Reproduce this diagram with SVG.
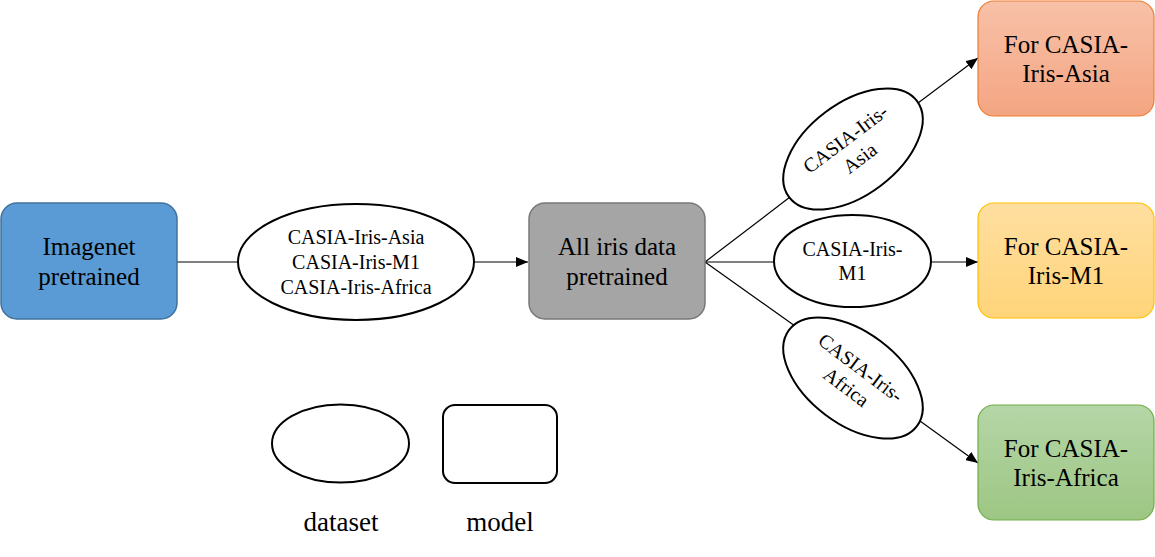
<svg xmlns="http://www.w3.org/2000/svg" width="1155" height="557" viewBox="0 0 1155 557">
<style>
  .t { fill: #000; text-anchor: middle; font-family: "Liberation Serif", "Times New Roman", serif; }
  .box { font-size: 25px; }
  .ds { font-size: 20px; }
  .lg { font-size: 27px; }
  .ell { fill: #fff; stroke: #000; stroke-width: 2; }
  .conn { stroke: #000; stroke-width: 1.2; fill: none; }
</style>
<defs>
  <marker id="arr" viewBox="0 0 12 10" refX="12" refY="5" markerWidth="12" markerHeight="10" markerUnits="userSpaceOnUse" orient="auto">
    <path d="M0,0 L12,5 L0,10 Z" fill="#000"/>
  </marker>
  <linearGradient id="gAsia" x1="0" y1="0" x2="0" y2="1">
    <stop offset="0" stop-color="#F8C1A8"/><stop offset="1" stop-color="#F4A582"/>
  </linearGradient>
  <linearGradient id="gM1" x1="0" y1="0" x2="0" y2="1">
    <stop offset="0" stop-color="#FFDFA0"/><stop offset="1" stop-color="#FFD47A"/>
  </linearGradient>
  <linearGradient id="gAfr" x1="0" y1="0" x2="0" y2="1">
    <stop offset="0" stop-color="#B5D6A7"/><stop offset="1" stop-color="#9DC683"/>
  </linearGradient>
</defs>

<g id="connectors">
  <line class="conn" x1="177" y1="262" x2="238" y2="262"/>
  <line class="conn" x1="474" y1="262" x2="528" y2="262" marker-end="url(#arr)"/>
  <line class="conn" x1="705" y1="262" x2="790" y2="197"/>
  <line class="conn" x1="918" y1="103" x2="978" y2="58" marker-end="url(#arr)"/>
  <line class="conn" x1="705" y1="262" x2="774" y2="262"/>
  <line class="conn" x1="931" y1="262" x2="978" y2="262" marker-end="url(#arr)"/>
  <line class="conn" x1="705" y1="262" x2="795" y2="326"/>
  <line class="conn" x1="920" y1="421" x2="978" y2="463" marker-end="url(#arr)"/>
</g>

<g id="imagenet">
  <rect x="1" y="203" width="176" height="116" rx="16" fill="#5B9BD5" stroke="#41719C" stroke-width="1.5"/>
  <text class="t box" x="89" y="255">Imagenet</text>
  <text class="t box" x="89" y="284.5">pretrained</text>
</g>

<g id="all-datasets">
  <ellipse class="ell" cx="356" cy="262" rx="118" ry="58"/>
  <text class="t ds" x="356" y="244">CASIA-Iris-Asia</text>
  <text class="t ds" x="356" y="269">CASIA-Iris-M1</text>
  <text class="t ds" x="356" y="294">CASIA-Iris-Africa</text>
</g>

<g id="all-iris">
  <rect x="529" y="203" width="176" height="116" rx="16" fill="#A5A5A5" stroke="#787878" stroke-width="1.5"/>
  <text class="t box" x="617" y="255">All iris data</text>
  <text class="t box" x="617" y="284.5">pretrained</text>
</g>

<g id="ds-asia" transform="translate(853,149) rotate(-37)">
  <ellipse class="ell" cx="0" cy="0" rx="80" ry="46"/>
  <text class="t ds" x="0" y="-6">CASIA-Iris-</text>
  <text class="t ds" x="0" y="18">Asia</text>
</g>

<g id="ds-m1">
  <ellipse class="ell" cx="852.5" cy="261" rx="78.5" ry="46"/>
  <text class="t ds" x="852.5" y="256">CASIA-Iris-</text>
  <text class="t ds" x="852.5" y="280">M1</text>
</g>

<g id="ds-africa" transform="translate(853,378) rotate(37)">
  <ellipse class="ell" cx="0" cy="0" rx="80" ry="46"/>
  <text class="t ds" x="0" y="-6">CASIA-Iris-</text>
  <text class="t ds" x="0" y="18">Africa</text>
</g>

<g id="model-asia">
  <rect x="978" y="1" width="176" height="115" rx="16" fill="url(#gAsia)" stroke="#ED7D31" stroke-width="1.2"/>
  <text class="t box" x="1066" y="53">For CASIA-</text>
  <text class="t box" x="1066" y="82">Iris-Asia</text>
</g>

<g id="model-m1">
  <rect x="978" y="203" width="176" height="115" rx="16" fill="url(#gM1)" stroke="#FFC000" stroke-width="1.2"/>
  <text class="t box" x="1066" y="255">For CASIA-</text>
  <text class="t box" x="1066" y="284">Iris-M1</text>
</g>

<g id="model-africa">
  <rect x="978" y="405" width="176" height="115" rx="16" fill="url(#gAfr)" stroke="#70AD47" stroke-width="1.2"/>
  <text class="t box" x="1066" y="457">For CASIA-</text>
  <text class="t box" x="1066" y="486">Iris-Africa</text>
</g>

<g id="legend-dataset">
  <ellipse class="ell" cx="340.5" cy="443.5" rx="68.5" ry="39"/>
  <text class="t lg" x="341" y="531">dataset</text>
</g>

<g id="legend-model">
  <rect x="443" y="405" width="114" height="78" rx="12" fill="#fff" stroke="#000" stroke-width="2"/>
  <text class="t lg" x="500" y="531">model</text>
</g>
</svg>
